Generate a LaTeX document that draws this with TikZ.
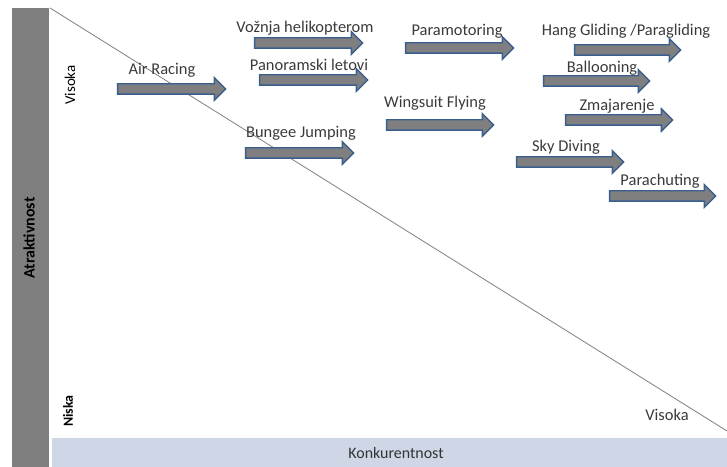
\documentclass[tikz,border=0pt]{standalone}
\usepackage{fontspec}
\setmainfont{Carlito}
\usetikzlibrary{shapes.arrows}
\definecolor{bargray}{HTML}{7F7F7F}
\definecolor{barblue}{HTML}{CFD7E6}
\definecolor{arrowedge}{HTML}{3A5F8F}
\definecolor{txt}{HTML}{3A3A3A}
\tikzset{
  arrowbox/.style={single arrow, draw=arrowedge, fill=bargray, line width=1.4bp,
    inner xsep=0pt, inner ysep=4.5bp, minimum height=#1, single arrow head extend=6bp,
    single arrow tip angle=90, outer sep=0pt},
  lbl/.style={text=txt, font=\fontsize{16.5}{18}\selectfont, inner sep=0pt},
  axislbl/.style={text=black, font=\fontsize{15}{17}\selectfont, inner sep=0pt, rotate=90},
}
\begin{document}
\begin{tikzpicture}[x=1bp,y=-1bp]
\useasboundingbox (0,0) rectangle (727,467);
% bars
\fill[bargray] (12,8) rectangle (49,467);
\fill[barblue] (52,438) rectangle (727,467);
\node[axislbl, font=\bfseries\fontsize{16}{18}\selectfont] (atr) at (29,238) {Atraktivnost};
\node[lbl, text=black!80, font=\fontsize{16}{18}\selectfont] (kon) at (396,453) {Konkurentnost};
\node[axislbl] (vis1) at (70,85) {Visoka};
\node[axislbl, font=\bfseries\fontsize{14}{16}\selectfont] (nis) at (68,411) {Niska};
\node[lbl] (vis2) at (667,415) {Visoka};
% diagonal
\coordinate (tl) at (50,8);
\coordinate (br) at (727,431);
\draw[bargray, line width=0.8bp] (tl) -- (br);
% arrows
\node[arrowbox=108bp] (a1) at (169,89) {};
\node[arrowbox=108bp] (a2) at (306,43) {};
\node[arrowbox=108bp] (a3) at (311,80) {};
\node[arrowbox=108bp] (a4) at (297,153) {};
\node[arrowbox=108bp] (a5) at (457,48) {};
\node[arrowbox=106bp] (a6) at (625,50) {};
\node[arrowbox=106bp] (a7) at (594,81) {};
\node[arrowbox=107bp] (a8) at (437.5,125) {};
\node[arrowbox=107bp] (a9) at (616.5,120) {};
\node[arrowbox=107bp] (a10) at (567.5,162) {};
\node[arrowbox=106bp] (a11) at (660,196) {};
% labels
\node[lbl] (t1) at (162,70) {Air Racing};
\node[lbl] (t2) at (305,28) {Vožnja helikopterom};
\node[lbl] (t3) at (309,65) {Panoramski letovi};
\node[lbl] (t4) at (301,133) {Bungee Jumping};
\node[lbl] (t5) at (457,31) {Paramotoring};
\node[lbl] (t6) at (626,31) {Hang Gliding /Paragliding};
\node[lbl] (t7) at (602,68) {Ballooning};
\node[lbl] (t8) at (435,103) {Wingsuit Flying};
\node[lbl] (t9) at (617,106) {Zmajarenje};
\node[lbl] (t10) at (566,147) {Sky Diving};
\node[lbl] (t11) at (660,181) {Parachuting};
\end{tikzpicture}
\end{document}
